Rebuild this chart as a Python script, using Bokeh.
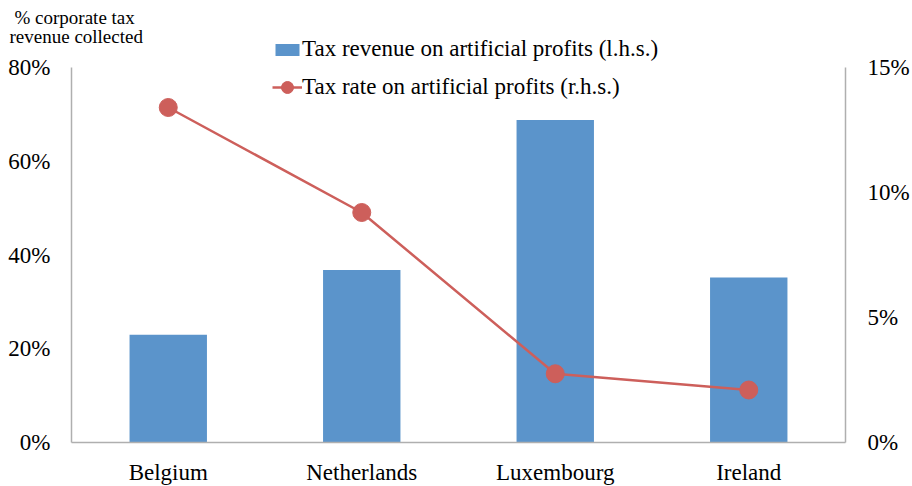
from bokeh.plotting import figure
from bokeh.models import (Range1d, LinearAxis, FixedTicker, Legend, LegendItem, Title,
                          ColumnDataSource, PrintfTickFormatter)
from bokeh.embed import file_html
from bokeh.resources import INLINE

countries = ["Belgium", "Netherlands", "Luxembourg", "Ireland"]
revenue_share = [23.0, 36.8, 68.8, 35.2]      # % corporate tax revenue collected (l.h.s.)
tax_rate = [13.4, 9.2, 2.75, 2.1]             # % tax rate on artificial profits (r.h.s.)
left_ticks = [0, 20, 40, 60, 80]
right_ticks = [0, 5, 10, 15]
title_lines = ["% corporate tax", "revenue collected"]
legend_labels = ["Tax revenue on artificial profits (l.h.s.)", "Tax rate on artificial profits (r.h.s.)"]

FONT = "Liberation Serif"
BLUE = "#5B94CB"
RED = "#CD5F5B"
AXIS = "#AFAFAF"

# geometry (pixels, page = canvas)
AXIS_TOP, AXIS_BOTTOM = 67, 442          # where 80% / 0% sit
TOP, LEFT, RIGHT, BOTTOM = 35, 71, 67, 44
FRAME_W = 774
FRAME_H = AXIS_BOTTOM - TOP
LEFT_MAX, RIGHT_MAX = 80, 15
lpx = (AXIS_BOTTOM - AXIS_TOP) / LEFT_MAX
rpx = (AXIS_BOTTOM - AXIS_TOP) / RIGHT_MAX

xpos = [i + 0.5 for i in range(len(countries))]
src = ColumnDataSource(dict(x=xpos, rev=revenue_share, rate=tax_rate, name=countries))

p = figure(frame_width=FRAME_W, frame_height=FRAME_H, output_backend="svg", toolbar_location=None,
           x_range=Range1d(0, len(countries)), y_range=Range1d(0, FRAME_H / lpx),
           min_border_left=LEFT, min_border_right=RIGHT, min_border_top=TOP, min_border_bottom=BOTTOM)
p.title.visible = False
p.extra_y_ranges = {"rate": Range1d(0, FRAME_H / rpx)}
p.outline_line_color = None
p.xgrid.visible = False
p.ygrid.visible = False

bars = p.vbar(x="x", top="rev", width=0.4, source=src, fill_color=BLUE, line_color=None)
line = p.line(x="x", y="rate", source=src, y_range_name="rate", line_color=RED, line_width=2.5)
dots = p.scatter(x="x", y="rate", source=src, y_range_name="rate", size=18,
                 fill_color=RED, line_color=RED)

def style_axis(ax, size="23px"):
    ax.axis_line_color = AXIS
    ax.axis_line_width = 1.5
    ax.major_tick_line_color = None
    ax.minor_tick_line_color = None
    ax.major_tick_out = 0
    ax.major_tick_in = 0
    ax.minor_tick_out = 0
    ax.minor_tick_in = 0
    ax.major_label_text_font = FONT
    ax.major_label_text_font_size = size
    ax.major_label_text_color = "#000000"

# x axis
p.xaxis.ticker = FixedTicker(ticks=xpos)
p.xaxis.major_label_overrides = {x: n for x, n in zip(xpos, countries)}
p.xaxis.major_label_standoff = 17
style_axis(p.xaxis[0])

# left y axis (line limited to 0-80%)
p.yaxis.ticker = FixedTicker(ticks=left_ticks)
p.yaxis.formatter = PrintfTickFormatter(format="%d%%")
p.yaxis.major_label_standoff = 21
p.yaxis.bounds = (0, LEFT_MAX)
style_axis(p.yaxis[0])

# right y axis (line limited to 0-15%)
rax = LinearAxis(y_range_name="rate", ticker=FixedTicker(ticks=right_ticks),
                 formatter=PrintfTickFormatter(format="%d%%"), bounds=(0, RIGHT_MAX))
rax.major_label_standoff = 22
style_axis(rax)
p.add_layout(rax, "right")

# axis title in the top-left corner (two title lines; the first added sits nearest the frame)
p.add_layout(Title(text=title_lines[1], align="left", offset=-62, standoff=-23, vertical_align="bottom",
                   text_font=FONT, text_font_size="19px", text_font_style="normal",
                   text_color="#000000"), "above")
p.add_layout(Title(text=title_lines[0], align="left", offset=-57, standoff=12, vertical_align="top",
                   text_font=FONT, text_font_size="19px", text_font_style="normal",
                   text_color="#000000"), "above")

leg_x = 201
common = dict(label_text_font=FONT, label_text_font_size="23px", label_text_color="#000000",
              label_standoff=0, label_height=26, padding=0, margin=0,
              border_line_color=None, background_fill_alpha=0)
legA = Legend(items=[LegendItem(label=legend_labels[0], renderers=[bars])],
              location=(leg_x, AXIS_BOTTOM - (TOP + 1 + 26)),
              glyph_width=30, glyph_height=15, **common)
legB = Legend(items=[LegendItem(label=legend_labels[1], renderers=[line, dots])],
              location=(leg_x, AXIS_BOTTOM - (87 + 19)),
              glyph_width=30, glyph_height=38, **common)
p.add_layout(legA, "center")
p.add_layout(legB, "center")

open("out.html", "w").write(file_html(p, INLINE))
